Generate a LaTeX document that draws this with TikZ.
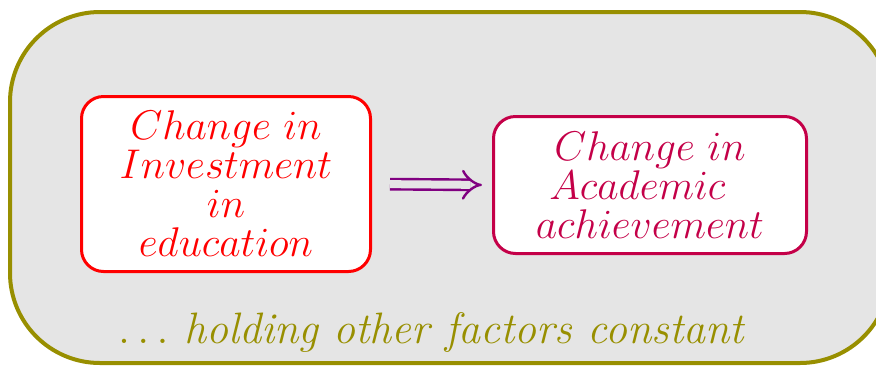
\RequirePackage{fix-cm}
\documentclass[tikz,border=0pt]{standalone}
\usetikzlibrary{arrows.meta}
\definecolor{olivebd}{RGB}{152,143,0}
\definecolor{bggray}{RGB}{229,229,229}
\definecolor{crim}{RGB}{196,0,72}
\definecolor{arrowpurple}{RGB}{128,0,128}
\begin{document}
\begin{tikzpicture}[x=1pt,y=-1pt,
  box/.style={draw, fill=white, line width=3pt, rounded corners=22pt, align=center, inner sep=0pt, font=\fontsize{41.5}{39}\selectfont},
  lbl/.style={inner sep=0pt, font=\fontsize{44}{39}\selectfont\itshape}
]
\useasboundingbox (0,0) rectangle (876,368);
\clip (0,0) rectangle (876,368);
\node[draw=olivebd, fill=bggray, line width=4pt, rounded corners=90pt, minimum width=880pt, minimum height=351pt, inner sep=0pt] (frame) at (450,187.5) {};
\node[box, draw=red, text=red, minimum width=289pt, minimum height=175pt, text depth=0pt] (inv) at (226,184) {$Change\ in$\\$Investment$\\$in$\\$education$};
\node[box, draw=crim, text=crim, minimum width=313pt, minimum height=137pt] (ach) at (650,185) {$Change\ in$\\$Academic\ \ $\\$achievement$};
\draw[arrowpurple, line width=2.4pt, double=bggray, double distance=8pt, -{Implies[scale=1.25]}, shorten <=18pt, shorten >=10pt] (inv.east) -- (ach.west);
\node[lbl, text=olivebd, anchor=base] (note) at (431,343) {$\ldots$\ holding other factors constant};
\end{tikzpicture}
\end{document}
